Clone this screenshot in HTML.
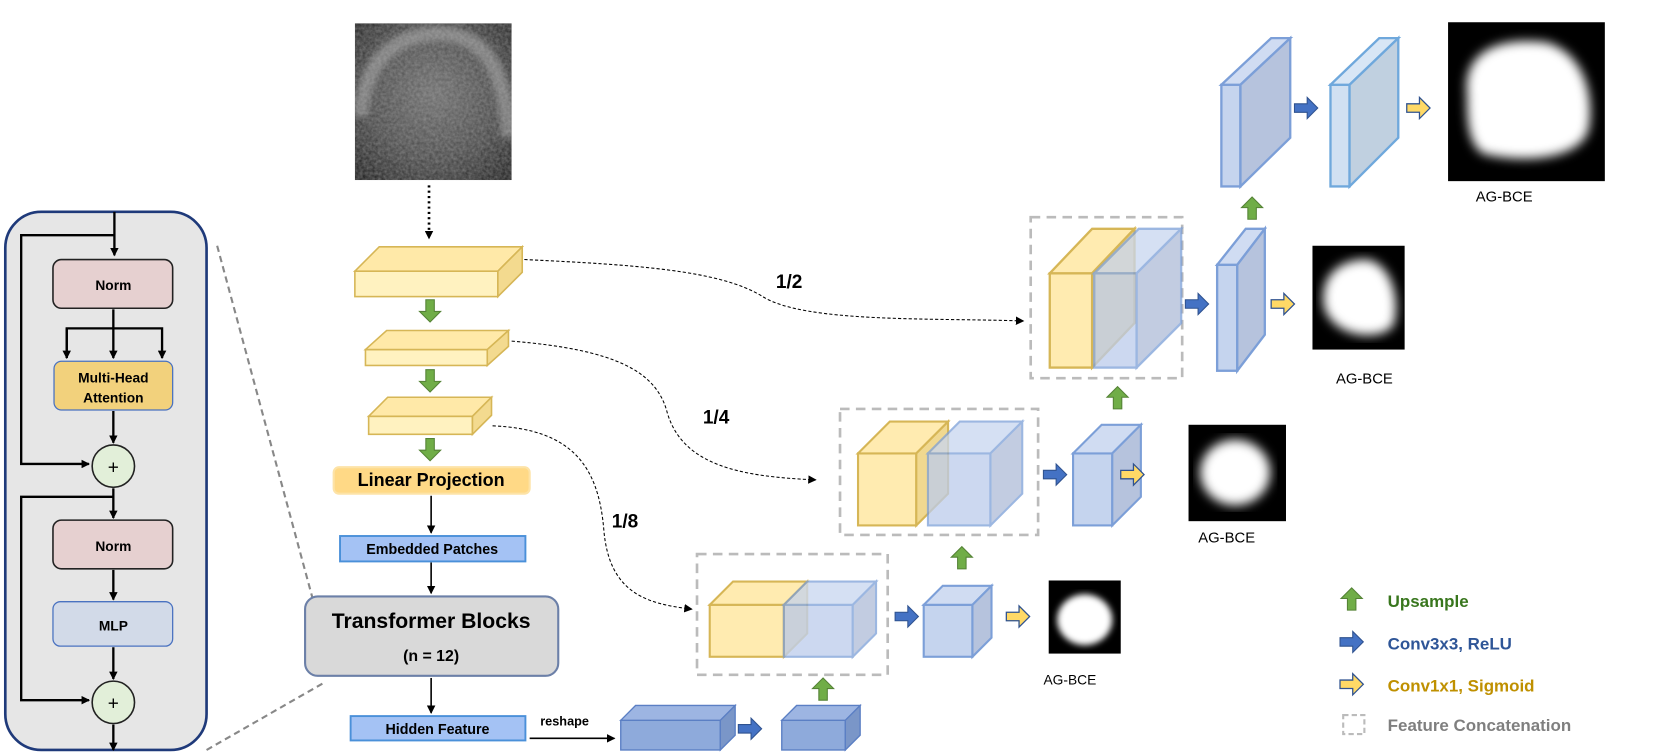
<!DOCTYPE html>
<html><head><meta charset="utf-8"><style>
html,body{margin:0;padding:0;background:#fff;}
svg{display:block;font-family:"Liberation Sans",Arial,sans-serif;}
</style></head><body>
<svg width="1661" height="752" viewBox="0 0 1661 752" xmlns="http://www.w3.org/2000/svg">
<defs>
<marker id="ah" markerWidth="8" markerHeight="8" refX="7" refY="4" orient="auto" markerUnits="userSpaceOnUse"><path d="M0,0 L8,4 L0,8z" fill="#000"/></marker>
<g id="rb"><path d="M0,-4 h12 v-6 l10,10 -10,10 v-6 h-12z" fill="#4472c4" stroke="#2f528f" stroke-width="1"/></g>
<g id="ry"><path d="M0,-4 h12 v-6 l10,10 -10,10 v-6 h-12z" fill="#ffd966" stroke="#2f528f" stroke-width="1.2"/></g>
<g id="ug"><path d="M-4,0 v-11 h-6 l10,-10 10,10 h-6 v11z" fill="#70ad47" stroke="#548235" stroke-width="1"/></g>
<g id="dg"><path d="M-4,0 v11 h-6 l10,10 10,-10 h-6 v-11z" fill="#70ad47" stroke="#548235" stroke-width="1"/></g>
<filter id="bl"><feGaussianBlur stdDeviation="5"/></filter>
<filter id="bl2"><feGaussianBlur stdDeviation="3"/></filter>
<filter id="noise" x="0" y="0" width="1" height="1"><feTurbulence type="fractalNoise" baseFrequency="0.35" numOctaves="2" seed="3"/><feColorMatrix type="matrix" values="0 0 0 0 0.5  0 0 0 0 0.5  0 0 0 0 0.5  0 0 0 0.5 0"/></filter>
<radialGradient id="us" cx="0.5" cy="0.45" r="0.7"><stop offset="0" stop-color="#6a6a6a"/><stop offset="0.6" stop-color="#444"/><stop offset="1" stop-color="#1a1a1a"/></radialGradient>
<clipPath id="usclip"><rect x="335" y="22" width="148" height="148"/></clipPath>
</defs>
<g transform="scale(1.0593)">

<!-- Left transformer panel -->
<rect x="5" y="200" width="190" height="508" rx="34" fill="#e6e6e6" stroke="#1f3a7a" stroke-width="2.5"/>
<line x1="205" y1="232" x2="300" y2="583" stroke="#888" stroke-width="2" stroke-dasharray="6,4"/>
<line x1="195" y1="708" x2="305" y2="645" stroke="#888" stroke-width="2" stroke-dasharray="6,4"/>
<g stroke="#000" stroke-width="2.2" fill="none">
<line x1="108" y1="200" x2="108" y2="241" marker-end="url(#ah)"/>
<polyline points="108,222 20,222 20,438 84,438" marker-end="url(#ah)"/>
<line x1="107" y1="292" x2="107" y2="338" marker-end="url(#ah)"/>
<polyline points="63,338 63,310 153,310 153,338" marker-end="url(#ah)"/>
<line x1="63" y1="310" x2="63" y2="338" marker-end="url(#ah)"/>
<line x1="107" y1="388" x2="107" y2="418" marker-end="url(#ah)"/>
<line x1="107" y1="461" x2="107" y2="489" marker-end="url(#ah)"/>
<polyline points="107,469 20,469 20,661 84,661" marker-end="url(#ah)"/>
<line x1="107" y1="538" x2="107" y2="566" marker-end="url(#ah)"/>
<line x1="107" y1="611" x2="107" y2="641" marker-end="url(#ah)"/>
<line x1="107" y1="684" x2="107" y2="708" marker-end="url(#ah)"/>
</g>
<rect x="50" y="245" width="113" height="46" rx="8" fill="#e6d0d0" stroke="#222" stroke-width="1.5"/>
<text x="107" y="274" font-size="13" font-weight="bold" text-anchor="middle">Norm</text>
<rect x="51" y="341" width="112" height="46" rx="7" fill="#f2d17c" stroke="#4a72c0" stroke-width="1.2"/>
<text x="107" y="361" font-size="13" font-weight="bold" text-anchor="middle">Multi-Head</text>
<text x="107" y="380" font-size="13" font-weight="bold" text-anchor="middle">Attention</text>
<circle cx="107" cy="440" r="20" fill="#e2efd9" stroke="#222" stroke-width="1.5"/>
<text x="107" y="447" font-size="18" text-anchor="middle">+</text>
<rect x="50" y="491" width="113" height="46" rx="8" fill="#e6d0d0" stroke="#222" stroke-width="1.5"/>
<text x="107" y="520" font-size="13" font-weight="bold" text-anchor="middle">Norm</text>
<rect x="50" y="568" width="113" height="42" rx="7" fill="#d2dae8" stroke="#4a72c0" stroke-width="1.2"/>
<text x="107" y="595" font-size="13" font-weight="bold" text-anchor="middle">MLP</text>
<circle cx="107" cy="663" r="20" fill="#e2efd9" stroke="#222" stroke-width="1.5"/>
<text x="107" y="670" font-size="18" text-anchor="middle">+</text>

<!-- Input ultrasound image -->
<g clip-path="url(#usclip)">
<rect x="335" y="22" width="148" height="148" fill="url(#us)"/>
<path d="M340,110 C345,50 380,30 420,32 C460,35 478,70 480,130" fill="none" stroke="#a0a0a0" stroke-width="14" opacity="0.6" filter="url(#bl2)"/>
<rect x="335" y="22" width="148" height="148" filter="url(#noise)"/>
</g>
<line x1="405" y1="175" x2="405" y2="225" stroke="#000" stroke-width="2.5" stroke-dasharray="2,3" marker-end="url(#ah)"/>

<!-- encoder slabs -->
<g stroke="#d6b656" stroke-width="1.5" fill="#fff2c0">
<rect x="335" y="256" width="135" height="24"/>
<polygon points="335,256 358,233 493,233 470,256" fill="#ffe9a8"/>
<polygon points="470,256 493,233 493,257 470,280" fill="#f3da8f"/>
<rect x="345" y="330" width="115" height="15"/>
<polygon points="345,330 365,312 480,312 460,330" fill="#ffe9a8"/>
<polygon points="460,330 480,312 480,327 460,345" fill="#f3da8f"/>
<rect x="348" y="393" width="98" height="17"/>
<polygon points="348,393 366,375 464,375 446,393" fill="#ffe9a8"/>
<polygon points="446,393 464,375 464,392 446,410" fill="#f3da8f"/>
</g>
<use href="#dg" x="406" y="283"/>
<use href="#dg" x="406" y="349"/>
<use href="#dg" x="406" y="414"/>

<rect x="315" y="441" width="185" height="25" rx="5" fill="#ffd986" stroke="#fde3a7" stroke-width="2"/>
<text x="407" y="459" font-size="17" font-weight="bold" text-anchor="middle">Linear Projection</text>
<line x1="407" y1="468" x2="407" y2="503" stroke="#000" stroke-width="1.5" marker-end="url(#ah)"/>
<rect x="321" y="506" width="175" height="24" fill="#a4c2f4" stroke="#4a90d9" stroke-width="1.8"/>
<text x="408" y="523" font-size="13.5" font-weight="bold" text-anchor="middle">Embedded Patches</text>
<line x1="407" y1="531" x2="407" y2="560" stroke="#000" stroke-width="1.5" marker-end="url(#ah)"/>
<rect x="288" y="563" width="239" height="75" rx="12" fill="#d9d9d9" stroke="#6c80a8" stroke-width="2"/>
<text x="407" y="593" font-size="20" font-weight="bold" text-anchor="middle">Transformer Blocks</text>
<text x="407" y="624" font-size="15" font-weight="bold" text-anchor="middle">(n = 12)</text>
<line x1="407" y1="640" x2="407" y2="673" stroke="#000" stroke-width="1.5" marker-end="url(#ah)"/>
<rect x="331" y="676" width="165" height="23" fill="#a4c2f4" stroke="#4a90d9" stroke-width="1.8"/>
<text x="413" y="693" font-size="13.5" font-weight="bold" text-anchor="middle">Hidden Feature</text>
<text x="533" y="685" font-size="12" font-weight="bold" text-anchor="middle">reshape</text>
<line x1="500" y1="697" x2="580" y2="697" stroke="#000" stroke-width="1.5" marker-end="url(#ah)"/>

<!-- bottom blue boxes -->
<g stroke="#5b7fc4" stroke-width="1.3">
<rect x="586" y="680" width="94" height="28" fill="#8eaadb"/>
<polygon points="586,680 600,666 694,666 680,680" fill="#9db5e2"/>
<polygon points="680,680 694,666 694,694 680,708" fill="#7a96c8"/>
<rect x="738" y="680" width="60" height="28" fill="#8eaadb"/>
<polygon points="738,680 752,666 812,666 798,680" fill="#9db5e2"/>
<polygon points="798,680 812,666 812,694 798,708" fill="#7a96c8"/>
</g>
<use href="#rb" x="697" y="688"/>

<!-- skip curves -->
<g fill="none" stroke="#000" stroke-width="1" stroke-dasharray="3,2">
<path d="M495,245 C600,250 680,255 720,280 C760,305 880,300 966,303" marker-end="url(#ah)"/>
<path d="M483,322 C580,330 620,350 630,390 C645,440 700,450 770,453" marker-end="url(#ah)"/>
<path d="M465,402 C540,405 565,440 570,500 C575,560 610,570 653,575" marker-end="url(#ah)"/>
</g>
<text x="745" y="272" font-size="18" font-weight="bold" text-anchor="middle">1/2</text>
<text x="676" y="400" font-size="18" font-weight="bold" text-anchor="middle">1/4</text>
<text x="590" y="498" font-size="18" font-weight="bold" text-anchor="middle">1/8</text>

<!-- dashed concat boxes -->
<g fill="none" stroke="#bbb" stroke-width="2.5" stroke-dasharray="9,6">
<rect x="973" y="205" width="143" height="152"/>
<rect x="793" y="386" width="187" height="119"/>
<rect x="658" y="523" width="180" height="114"/>
</g>

<!-- 1/8 stage -->
<g stroke-width="2">
<g stroke="#d6b656"><rect x="670" y="571" width="70" height="49" fill="#ffebb0"/>
<polygon points="670,571 692,549 762,549 740,571" fill="#ffebb0"/>
<polygon points="740,571 762,549 762,598 740,620" fill="#f0d890" opacity="0.8"/></g>
<g stroke="#7c9fd8" opacity="0.75"><rect x="740" y="571" width="65" height="49" fill="#bcccec"/>
<polygon points="740,571 762,549 827,549 805,571" fill="#c8d6f0"/>
<polygon points="805,571 827,549 827,598 805,620" fill="#aebcd8"/></g>
<g stroke="#7c9fd8"><rect x="872" y="571" width="46" height="49" fill="#c5d4ee"/>
<polygon points="872,571 890,553 936,553 918,571" fill="#d0dcf2"/>
<polygon points="918,571 936,553 936,602 918,620" fill="#b6c3dd"/></g>
</g>
<use href="#rb" x="845" y="582"/>
<use href="#ry" x="950" y="582"/>
<use href="#ug" x="777" y="661"/>
<rect x="990" y="548" width="68" height="69" fill="#000"/>
<ellipse cx="1024" cy="585" rx="26" ry="24" fill="#fff" filter="url(#bl2)"/>
<text x="1010" y="646" font-size="13" text-anchor="middle">AG-BCE</text>

<!-- 1/4 stage -->
<g stroke-width="2">
<g stroke="#d6b656"><rect x="810" y="428" width="55" height="68" fill="#ffebb0"/>
<polygon points="810,428 840,398 895,398 865,428" fill="#ffebb0"/>
<polygon points="865,428 895,398 895,466 865,496" fill="#f0d890"/></g>
<g stroke="#7c9fd8" opacity="0.75"><rect x="876" y="428" width="59" height="68" fill="#bcccec"/>
<polygon points="876,428 906,398 965,398 935,428" fill="#c8d6f0"/>
<polygon points="935,428 965,398 965,466 935,496" fill="#aebcd8"/></g>
<g stroke="#7c9fd8"><rect x="1013" y="428" width="37" height="68" fill="#c5d4ee"/>
<polygon points="1013,428 1040,401 1077,401 1050,428" fill="#d0dcf2"/>
<polygon points="1050,428 1077,401 1077,469 1050,496" fill="#b6c3dd"/></g>
</g>
<use href="#rb" x="985" y="448"/>
<use href="#ry" x="1058" y="448"/>
<use href="#ug" x="908" y="537"/>
<rect x="1122" y="401" width="92" height="91" fill="#000"/>
<ellipse cx="1166" cy="446" rx="33" ry="31" fill="#fff" filter="url(#bl)"/>
<text x="1158" y="512" font-size="14" text-anchor="middle">AG-BCE</text>

<!-- 1/2 stage -->
<g stroke-width="2.2">
<g stroke="#d6b656"><rect x="991" y="258" width="40" height="89" fill="#ffebb0"/>
<polygon points="991,258 1031,216 1071,216 1031,258" fill="#ffebb0"/>
<polygon points="1031,258 1071,216 1071,305 1031,347" fill="#f0d890"/></g>
<g stroke="#7c9fd8" opacity="0.75"><rect x="1033" y="258" width="40" height="89" fill="#bcccec"/>
<polygon points="1033,258 1075,216 1115,216 1073,258" fill="#c8d6f0"/>
<polygon points="1073,258 1115,216 1115,305 1073,347" fill="#aebcd8"/></g>
<g stroke="#7c9fd8"><rect x="1149" y="250" width="19" height="100" fill="#c5d4ee"/>
<polygon points="1149,250 1176,216 1194,216 1168,250" fill="#d0dcf2"/>
<polygon points="1168,250 1194,216 1194,316 1168,350" fill="#b6c3dd"/></g>
</g>
<use href="#rb" x="1119" y="287"/>
<use href="#ry" x="1200" y="287"/>
<use href="#ug" x="1055" y="386"/>
<use href="#ug" x="1182" y="207"/>
<rect x="1239" y="232" width="87" height="98" fill="#000"/>
<path d="M1250,290 C1245,260 1265,245 1290,245 C1312,248 1322,280 1316,305 C1310,322 1260,322 1250,290z" fill="#fff" filter="url(#bl)"/>
<text x="1288" y="362" font-size="14" text-anchor="middle">AG-BCE</text>

<!-- top stage -->
<g stroke-width="2.2">
<g stroke="#7c9fd8"><rect x="1153" y="80" width="18" height="96" fill="#c5d4ee"/>
<polygon points="1153,80 1200,36 1218,36 1171,80" fill="#d0dcf2"/>
<polygon points="1171,80 1218,36 1218,130 1171,176" fill="#b6c3dd"/></g>
<g stroke="#6fa8dc"><rect x="1256" y="80" width="18" height="96" fill="#d0e0f2"/>
<polygon points="1256,80 1302,36 1320,36 1274,80" fill="#d8e6f5"/>
<polygon points="1274,80 1320,36 1320,130 1274,176" fill="#c0d0e0"/></g>
</g>
<use href="#rb" x="1222" y="102"/>
<use href="#ry" x="1328" y="102"/>
<rect x="1367" y="21" width="148" height="150" fill="#000"/>
<path d="M1385,90 C1380,45 1420,35 1460,40 C1495,50 1505,90 1500,120 C1495,150 1440,155 1400,145 C1385,135 1385,110 1385,90z" fill="#fff" filter="url(#bl)"/>
<text x="1420" y="190" font-size="14" text-anchor="middle">AG-BCE</text>

<!-- legend -->
<use href="#ug" x="1276" y="576"/>
<text x="1310" y="573" font-size="16" font-weight="bold" fill="#38761d">Upsample</text>
<use href="#rb" x="1265" y="606"/>
<text x="1310" y="613" font-size="16" font-weight="bold" fill="#2e5597">Conv3x3, ReLU</text>
<use href="#ry" x="1265" y="646"/>
<text x="1310" y="653" font-size="16" font-weight="bold" fill="#bf9000">Conv1x1, Sigmoid</text>
<rect x="1268" y="675" width="20" height="18" fill="none" stroke="#bbb" stroke-width="2" stroke-dasharray="5,3"/>
<text x="1310" y="690" font-size="16" font-weight="bold" fill="#7f7f7f">Feature Concatenation</text>
</g>
</svg>
</body></html>
